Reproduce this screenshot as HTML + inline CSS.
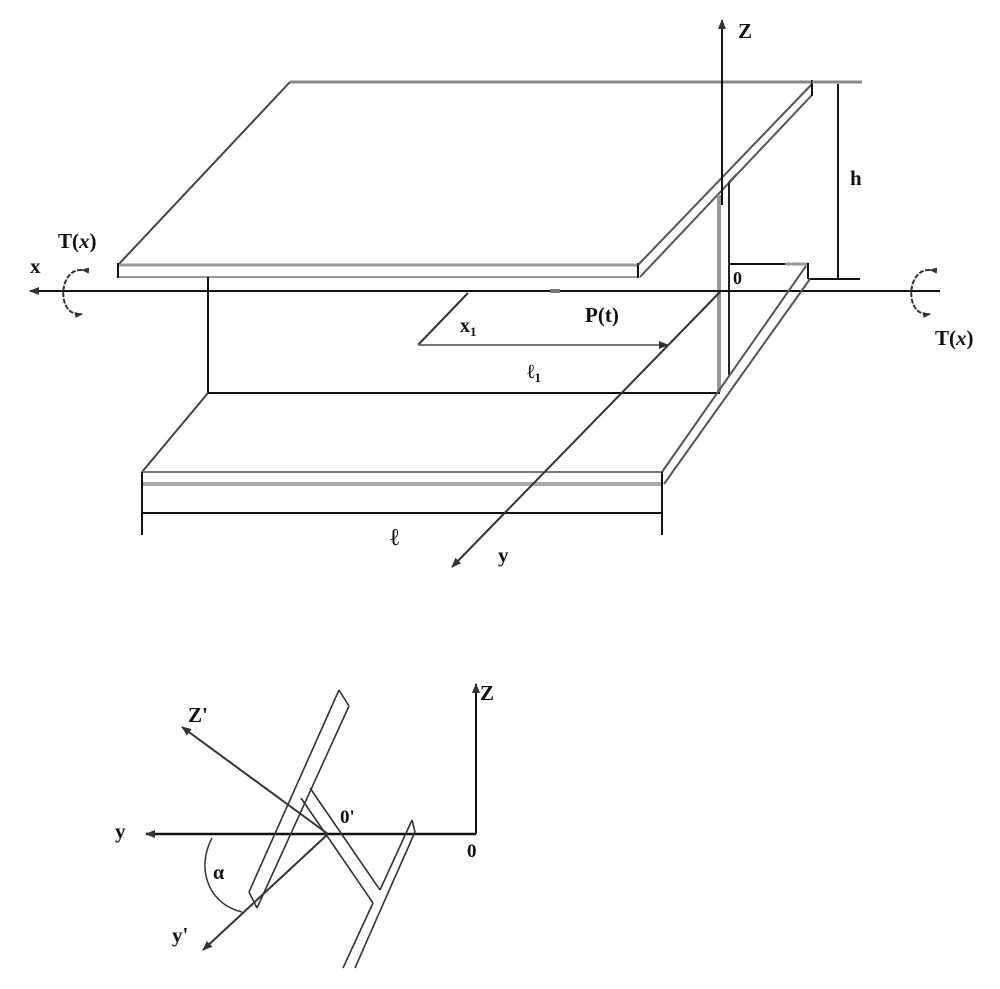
<!DOCTYPE html>
<html><head><style>
html,body{margin:0;padding:0;background:#fff;}
svg{display:block}
text{font-family:"Liberation Serif",serif;font-weight:bold;fill:#111;}
</style></head><body>
<svg width="1000" height="989" viewBox="0 0 1000 989" xmlns="http://www.w3.org/2000/svg">
<defs>
<marker id="a" markerWidth="10" markerHeight="8" refX="9" refY="4" orient="auto" markerUnits="userSpaceOnUse"><path d="M0,0 L10,4 L0,8 Z" fill="#333"/></marker>
<marker id="s" markerWidth="8" markerHeight="6" refX="7" refY="3" orient="auto" markerUnits="userSpaceOnUse"><path d="M0,0 L8,3 L0,6 Z" fill="#333"/></marker>
</defs>
<g stroke="#111" stroke-width="2" fill="none">
<!-- top flange -->
<line x1="290" y1="82" x2="812" y2="82" stroke="#888" stroke-width="3"/>
<line x1="118" y1="265" x2="290" y2="82" stroke="#444"/>
<line x1="118" y1="265" x2="638" y2="265" stroke="#999" stroke-width="3"/>
<line x1="118" y1="277" x2="638" y2="277" stroke="#999" stroke-width="2"/>
<line x1="118" y1="263" x2="118" y2="278"/>
<line x1="638" y1="263" x2="638" y2="278"/>
<line x1="638" y1="265" x2="812" y2="84" stroke="#555"/>
<line x1="640" y1="277" x2="812" y2="95" stroke="#555"/>
<line x1="812" y1="80" x2="812" y2="96"/>
<!-- web -->
<line x1="208" y1="277" x2="208" y2="393"/>
<line x1="208" y1="393" x2="720" y2="393"/>
<line x1="719" y1="195" x2="719" y2="392" stroke="#999" stroke-width="4"/>
<line x1="729" y1="182" x2="729" y2="375" stroke="#222"/>
<line x1="729" y1="182" x2="737" y2="174" stroke="#555"/>
<!-- Z axis -->
<line x1="722" y1="28" x2="722" y2="205" />
<line x1="722" y1="40" x2="722" y2="20" marker-end="url(#a)"/>
<!-- x axis -->
<line x1="940" y1="291" x2="30" y2="291" marker-end="url(#a)"/>
<!-- lower right flange near O -->
<line x1="729" y1="264" x2="785" y2="264"/>
<line x1="785" y1="264" x2="808" y2="264" stroke="#999" stroke-width="3"/>
<line x1="808" y1="263" x2="808" y2="279"/>
<line x1="808" y1="279" x2="860" y2="279"/>
<line x1="806" y1="266" x2="662" y2="472" stroke="#555"/>
<line x1="810" y1="279" x2="664" y2="484" stroke="#555"/>
<!-- bottom flange -->
<line x1="142" y1="472" x2="208" y2="393" stroke="#444"/>
<line x1="142" y1="472" x2="662" y2="472" stroke="#777" stroke-width="2"/>
<line x1="142" y1="484" x2="662" y2="484" stroke="#aaa" stroke-width="4"/>
<line x1="142" y1="472" x2="142" y2="535"/>
<line x1="662" y1="472" x2="662" y2="535"/>
<!-- dimension l -->
<line x1="142" y1="513" x2="662" y2="513"/>
<!-- h dimension -->
<line x1="812" y1="82" x2="862" y2="82" stroke="#888" stroke-width="3"/>
<line x1="838" y1="84" x2="838" y2="278"/>
<!-- y axis -->
<line x1="720" y1="292" x2="452" y2="567" stroke="#333" marker-end="url(#a)"/>
<!-- x1 / l1 -->
<line x1="468" y1="293" x2="418" y2="345" stroke="#333"/>
<line x1="418" y1="345" x2="668" y2="345" stroke="#777" marker-end="url(#a)"/>
<line x1="550" y1="291" x2="560" y2="291" stroke="#777" stroke-width="4"/>
<!-- rotation arrows -->
<path d="M82,270 C58,268 56,318 82,314" stroke="#333" stroke-width="2" stroke-dasharray="5,1.5" marker-start="url(#s)" marker-end="url(#s)"/>
<path d="M930,270 C906,268 904,318 930,314" stroke="#333" stroke-width="2" stroke-dasharray="5,1.5" marker-start="url(#s)" marker-end="url(#s)"/>

<!-- bottom figure -->
<line x1="476" y1="834" x2="146" y2="834" stroke-width="2.5" marker-end="url(#a)"/>
<line x1="476" y1="834" x2="476" y2="684" stroke-width="2" marker-end="url(#a)"/>
<line x1="328" y1="834" x2="182" y2="727" stroke="#333" marker-end="url(#a)"/>
<line x1="328" y1="834" x2="203" y2="950" stroke="#333" marker-end="url(#a)"/>
<path d="M212,838 C195,870 210,905 242,912" stroke="#333" stroke-width="1.5"/>
<g stroke="#333" stroke-width="1.6">
<path d="M339,690 L249,892"/>
<path d="M349,706 L257,908"/>
<path d="M339,690 L349,706"/>
<path d="M249,892 L257,908"/>
<path d="M301,798 L373,903"/>
<path d="M310,788 L380,890"/>
<path d="M373,903 L343,968"/>
<path d="M380,890 L412,820"/>
<path d="M412,820 L415,832"/>
<path d="M415,832 L384,902 L355,968"/>
</g>
</g>
<g font-size="21">
<text x="738" y="38">Z</text>
<text x="850" y="185">h</text>
<text x="30" y="273">x</text>
<text x="58" y="248">T(<tspan font-style="italic">x</tspan>)</text>
<text x="935" y="345">T(<tspan font-style="italic">x</tspan>)</text>
<text x="733" y="284" font-size="18">0</text>
<text x="585" y="322">P(t)</text>
<text x="460" y="332" font-size="20">x<tspan font-size="13" dy="4">1</tspan></text>
<text x="527" y="378" font-size="20">ℓ<tspan font-size="13" dy="4">1</tspan></text>
<text x="390" y="545" font-size="24">ℓ</text>
<text x="498" y="562">y</text>
<text x="480" y="700">Z</text>
<text x="188" y="722">Z'</text>
<text x="115" y="838">y</text>
<text x="467" y="857" font-size="19">0</text>
<text x="340" y="823" font-size="19">0'</text>
<text x="213" y="879" font-size="20">α</text>
<text x="172" y="942">y'</text>
</g>
</svg>
</body></html>
